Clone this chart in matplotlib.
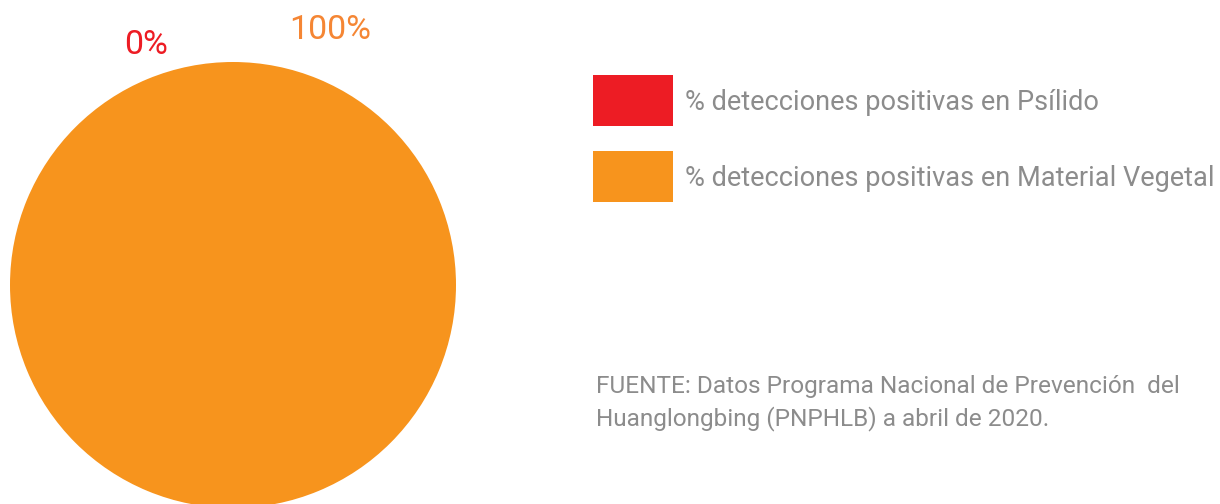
import matplotlib.pyplot as plt
from matplotlib.patches import Rectangle

categories = ['% detecciones positivas en Psílido',
              '% detecciones positivas en Material Vegetal']
values = [0, 100]
value_labels = ['0%', '100%']
colors = ['#ED1C24', '#F7941D']
label_colors = ['#ED1C24', '#F58634']
source = ('FUENTE: Datos Programa Nacional de Prevención  del\n'
          'Huanglongbing (PNPHLB) a abril de 2020.')

fig = plt.figure(figsize=(12.2, 5.04), dpi=100)
ax = fig.add_axes([0, 0, 1, 1])

# pie, starting at top going clockwise like the source
ax.pie(values, colors=colors, center=(233, 285), radius=223,
       startangle=90, counterclock=False, frame=True)
ax.set_xlim(0, 1220)
ax.set_ylim(504, 0)
ax.set_aspect('equal')
ax.axis('off')

font = ['Roboto', 'DejaVu Sans']
label_pos = [(146, 45), (330, 30)]
for (x, y), txt, c in zip(label_pos, value_labels, label_colors):
    ax.text(x, y, txt, color=c, fontsize=24.5, ha='center', va='center',
            family=font)

# legend
for i, (cat, c) in enumerate(zip(categories, colors)):
    y0 = 75 + i * 76
    ax.add_patch(Rectangle((593, y0), 80, 51, color=c, lw=0))
    ax.text(685, y0 + 27, cat, color='#8C8C8C', fontsize=19.5,
            ha='left', va='center', family=font)

ax.text(596, 403, source, color='#8C8C8C', fontsize=17.6, ha='left',
        va='center', linespacing=1.42, family=font)

fig.savefig('out.png', dpi=100)
